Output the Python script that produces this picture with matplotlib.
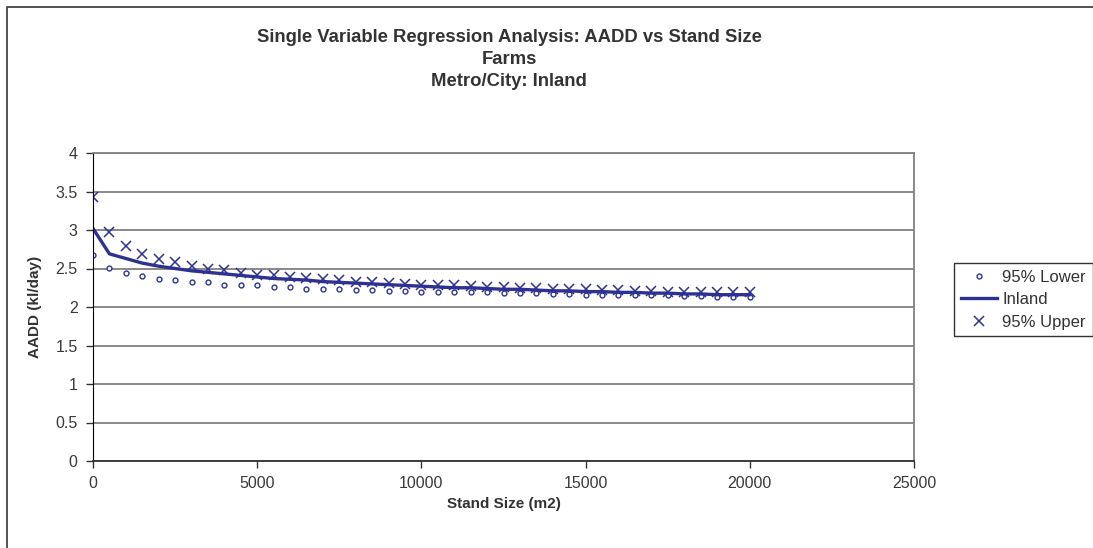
import numpy as np
import matplotlib
matplotlib.use("Agg")
import matplotlib.pyplot as plt
from matplotlib.lines import Line2D

plt.rcParams['font.family'] = ['Liberation Sans', 'DejaVu Sans']

# stand size (m2), one point every 500
stand_size = np.arange(0, 20001, 500)

upper = [3.43, 2.97, 2.79, 2.69, 2.62, 2.58, 2.53, 2.50, 2.48, 2.44,
         2.42, 2.41, 2.39, 2.38, 2.36, 2.35, 2.33, 2.32, 2.31, 2.30,
         2.29, 2.28, 2.28, 2.27, 2.26, 2.26, 2.25, 2.25, 2.24, 2.23,
         2.23, 2.22, 2.22, 2.21, 2.21, 2.20, 2.20, 2.20, 2.19, 2.19, 2.19]
lower = [2.68, 2.51, 2.44, 2.40, 2.36, 2.35, 2.33, 2.32, 2.29, 2.29,
         2.28, 2.26, 2.26, 2.24, 2.24, 2.24, 2.22, 2.22, 2.21, 2.21,
         2.20, 2.20, 2.19, 2.19, 2.19, 2.18, 2.18, 2.18, 2.17, 2.17,
         2.16, 2.16, 2.16, 2.15, 2.15, 2.15, 2.14, 2.14, 2.13, 2.13, 2.13]
inland = [3.02, 2.69, 2.63, 2.57, 2.53, 2.50, 2.47, 2.45, 2.43, 2.41,
          2.39, 2.37, 2.36, 2.35, 2.33, 2.32, 2.31, 2.30, 2.29, 2.28,
          2.27, 2.26, 2.25, 2.25, 2.24, 2.23, 2.23, 2.22, 2.21, 2.21,
          2.20, 2.20, 2.19, 2.19, 2.18, 2.18, 2.17, 2.17, 2.16, 2.16, 2.16]

x_ticks = [0, 5000, 10000, 15000, 20000, 25000]
y_ticks = [0, 0.5, 1, 1.5, 2, 2.5, 3, 3.5, 4]

navy = '#2e3192'
txt = '#333333'

fig = plt.figure(figsize=(10.93, 5.48), dpi=100)
ax = fig.add_axes([93/1093, 1 - 461/548, (914 - 93)/1093, (461 - 153)/548])

# outer chart border: only left and top edges are visible in the image
x0, y0 = 7/1093, 1 - 7/548
fig.lines.append(Line2D([x0, x0, 1.0], [0.0, y0, y0], transform=fig.transFigure,
                        color='#444444', linewidth=1.3))

ax.plot(stand_size, lower, linestyle='none', marker='o', markersize=3.5,
        markerfacecolor='white', markeredgecolor=navy, markeredgewidth=1.0, label='95% Lower')
ax.plot(stand_size, inland, color=navy, linewidth=2.4, label='Inland')
ax.plot(stand_size, upper, linestyle='none', marker='x', markersize=7.5,
        markeredgecolor=navy, markeredgewidth=1.1, label='95% Upper')

ax.set_xlim(0, 25000)
ax.set_ylim(0, 4)
ax.set_xticks(x_ticks)
ax.set_xticklabels([str(v) for v in x_ticks])
ax.set_yticks(y_ticks)
ax.set_yticklabels(['%g' % v for v in y_ticks])
ax.tick_params(labelsize=11.5, labelcolor='#3a3a3a', colors='#333333',
               length=5, width=1, direction='out', pad=6)
ax.yaxis.grid(True, color='#808080', linewidth=1.3)
ax.set_axisbelow(True)

for side in ['top', 'right']:
    ax.spines[side].set_color('#808080')
    ax.spines[side].set_linewidth(1.3)
ax.spines['left'].set_color('black')
ax.spines['bottom'].set_color('#333333')
ax.spines['bottom'].set_linewidth(1.3)

ax.set_xlabel('Stand Size (m2)', fontsize=11, fontweight='bold', color=txt, labelpad=4)
ax.set_ylabel('AADD (kl/day)', fontsize=11, fontweight='bold', color=txt, labelpad=10)

title_lines = ['Single Variable Regression Analysis: AADD vs Stand Size',
               'Farms', 'Metro/City: Inland']
for line, ypix in zip(title_lines, [37, 60, 82]):
    fig.text(509/1093, 1 - ypix/548, line, ha='center', va='center',
             fontsize=13.3, fontweight='bold', color=txt)

leg = ax.legend(loc='upper left', bbox_to_anchor=(954/1093, 1 - 263/548),
                bbox_transform=fig.transFigure, fontsize=12, frameon=True, fancybox=False,
                borderaxespad=0, handlelength=2.2, handletextpad=0.3, labelspacing=0.45,
                borderpad=0.4)
leg.get_frame().set_edgecolor('black')
leg.get_frame().set_linewidth(1.0)
for t in leg.get_texts():
    t.set_color(txt)

fig.savefig('out.png', dpi=100)
